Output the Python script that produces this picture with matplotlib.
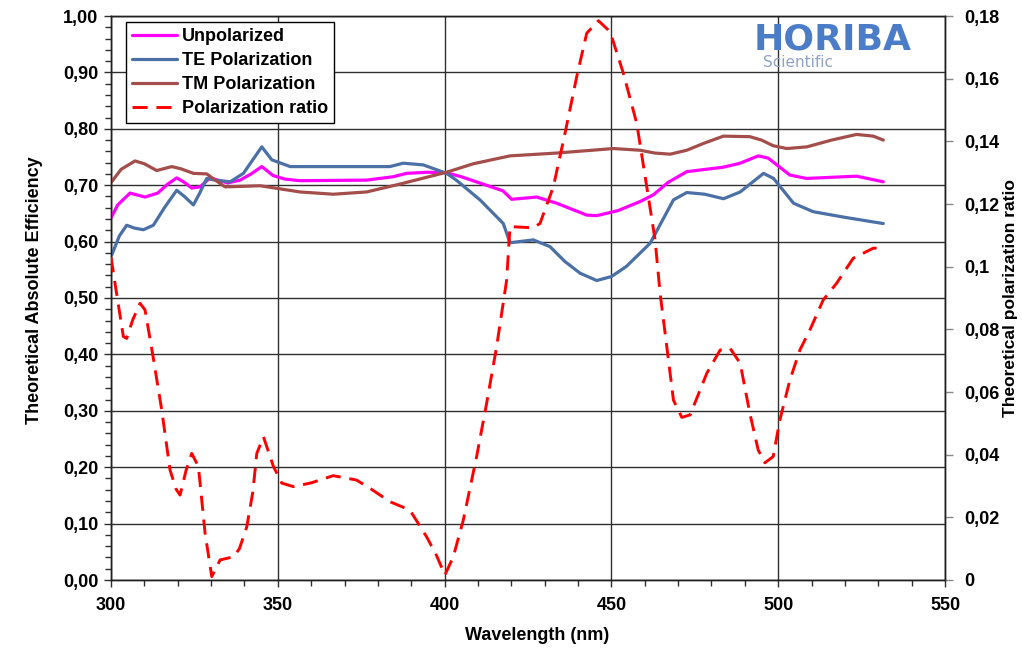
import matplotlib
matplotlib.use("Agg")
import matplotlib.pyplot as plt
from matplotlib.ticker import MultipleLocator, FuncFormatter

plt.rcParams['font.family'] = ['Liberation Sans', 'DejaVu Sans']

# ---- data ----
w_unpol = [300, 302, 305.7, 310.2, 314, 317, 319.7, 322, 324.2, 326.7, 329.7, 335, 338.7, 342,
           345.2, 348.6, 352, 356.6, 376.6, 384.6, 388.6, 395, 400.6, 405, 410, 417.5, 420.1,
           427.6, 433.6, 442.6, 445.6, 452, 458.6, 462.6, 467, 472.6, 483.6, 488.6, 494, 497,
           503.5, 508.5, 523.5, 531.5]
unpol = [0.642, 0.665, 0.686, 0.679, 0.686, 0.702, 0.713, 0.705, 0.695, 0.697, 0.713, 0.704, 0.709,
         0.720, 0.733, 0.717, 0.711, 0.708, 0.709, 0.715, 0.721, 0.723, 0.722, 0.715, 0.705, 0.690,
         0.675, 0.679, 0.668, 0.647, 0.646, 0.655, 0.671, 0.683, 0.705, 0.724, 0.732, 0.739, 0.752,
         0.748, 0.718, 0.712, 0.716, 0.706]

w_te = [300.2, 302.5, 304.7, 307, 309.7, 312.7, 316, 319.7, 322, 324.7, 326.5, 328.7, 331.2, 335.7,
        339.7, 342.5, 345.2, 348.2, 353.7, 383.6, 387.6, 393.6, 400.6, 403.5, 410.6, 417.6, 419.6,
        426.6, 431.6, 436, 440.6, 445.6, 450, 454.5, 461.6, 468.6, 472.6, 478, 483.6, 488.6, 495.6,
        498.6, 504.6, 510.5, 520, 531.5]
te = [0.576, 0.610, 0.629, 0.624, 0.621, 0.629, 0.660, 0.691, 0.680, 0.665, 0.685, 0.712, 0.709,
      0.706, 0.721, 0.745, 0.768, 0.745, 0.733, 0.733, 0.739, 0.736, 0.721, 0.709, 0.674, 0.632,
      0.598, 0.603, 0.591, 0.565, 0.544, 0.531, 0.538, 0.556, 0.597, 0.674, 0.687, 0.684, 0.676,
      0.688, 0.721, 0.712, 0.668, 0.653, 0.643, 0.632]

w_tm = [300.2, 303, 307.2, 310, 313.7, 318.2, 321, 324.7, 328.7, 331, 334.2, 344.7, 356.7, 366.6,
        376.6, 386.6, 400.6, 408.6, 419.6, 433.6, 450.6, 458.6, 463, 467.6, 472.6, 478, 483.6,
        491.5, 495, 498.5, 502.6, 508.6, 516, 523.5, 528.5, 531.5]
tm = [0.706, 0.728, 0.743, 0.738, 0.726, 0.733, 0.729, 0.721, 0.720, 0.710, 0.697, 0.699, 0.688,
      0.684, 0.688, 0.702, 0.723, 0.738, 0.752, 0.757, 0.765, 0.762, 0.757, 0.755, 0.762, 0.775,
      0.787, 0.786, 0.780, 0.770, 0.765, 0.768, 0.780, 0.790, 0.787, 0.780]

w_ratio = [300, 301.2, 303.7, 304.7, 306.5, 308.7, 310.2, 312.5, 315.2, 317.7, 319.5, 320.7, 322.5,
           324.2, 326.2, 328.2, 330.2, 332.7, 336.7, 338.5, 340.7, 342.5, 343.7, 345.7, 348.7,
           351.2, 354.7, 360, 366.6, 373.6, 378, 383.6, 389.6, 394.6, 397.5, 400.1, 402.6, 405.6,
           409.6, 412.6, 415.6, 418.6, 419.6, 423, 426.6, 428.6, 432.6, 436.1, 439.6, 442.6, 446.1,
           449.6, 453.6, 457.6, 460.6, 463.1, 464.6, 466.6, 468.6, 471.1, 473.6, 478.6, 482.6,
           485.6, 488.6, 491.5, 494, 496, 498.5, 500.5, 503.5, 506.5, 509.5, 513.5, 517.5, 522.5,
           528.5, 529.5]
ratio = [0.103, 0.0947, 0.0777, 0.0771, 0.083, 0.0883, 0.0862, 0.072, 0.0543, 0.0351, 0.029, 0.0271,
         0.035, 0.0404, 0.0362, 0.0149, 0.0011, 0.0064, 0.0074, 0.010, 0.0170, 0.028, 0.0404,
         0.0457, 0.0362, 0.0309, 0.0298, 0.031, 0.0333, 0.0319, 0.029, 0.0250, 0.0223, 0.0138,
         0.008, 0.0016, 0.0074, 0.0191, 0.0394, 0.0564, 0.0745, 0.0957, 0.1128, 0.1126, 0.1124,
         0.1138, 0.1255, 0.1426, 0.1606, 0.1745, 0.1785, 0.1750, 0.1617, 0.1457, 0.1255, 0.1085,
         0.0915, 0.0745, 0.0574, 0.0519, 0.0527, 0.0660, 0.0734, 0.0739, 0.0692, 0.0532, 0.0415,
         0.0374, 0.0394, 0.0511, 0.0638, 0.0734, 0.0798, 0.0894, 0.0947, 0.1027, 0.1059, 0.1059]

labels = ["Unpolarized", "TE Polarization", "TM Polarization", "Polarization ratio"]

# ---- figure ----
fig = plt.figure(figsize=(10.22, 6.48), dpi=100)
ax = fig.add_axes([111/1022, 1-580/648, (945-111)/1022, (580-16)/648])
ax2 = ax.twinx()

lw = 2.3
l1, = ax.plot(w_unpol, unpol, color='#FF00FF', lw=lw, solid_joinstyle='round', solid_capstyle='round', zorder=5)
l2, = ax.plot(w_te, te, color='#4A70A6', lw=lw, solid_joinstyle='round', solid_capstyle='round', zorder=5)
l3, = ax.plot(w_tm, tm, color='#A34E4B', lw=lw, solid_joinstyle='round', solid_capstyle='round', zorder=5)
l4, = ax2.plot(w_ratio, ratio, color='#FF0000', lw=2.1, dashes=(5.2, 3.0), zorder=5)

ax.set_xlim(300, 550)
ax.set_ylim(0, 1.0)
ax2.set_ylim(0, 0.18)

ax.xaxis.set_major_locator(MultipleLocator(50))
ax.xaxis.set_minor_locator(MultipleLocator(10))
ax.yaxis.set_major_locator(MultipleLocator(0.1))
ax.yaxis.set_minor_locator(MultipleLocator(0.02))
ax2.yaxis.set_major_locator(MultipleLocator(0.02))

ax.yaxis.set_major_formatter(FuncFormatter(lambda v, p: f"{v:.2f}".replace('.', ',')))

def rfmt(v, p):
    s = f"{v:.2f}".rstrip('0').rstrip('.')
    if s in ('', '-0'):
        s = '0'
    return s.replace('.', ',')

ax2.yaxis.set_major_formatter(FuncFormatter(rfmt))

ax.grid(True, which='major', color='#303030', lw=1.0)
ax.set_axisbelow(True)

tkw = dict(direction='out', labelsize=13, width=1.0)
ax.tick_params(axis='both', which='major', length=5, pad=4, colors='#303030', labelcolor='black', **tkw)
ax.tick_params(axis='both', which='minor', length=4, width=1.0, direction='out', colors='#303030')
ax.tick_params(axis='x', which='major', pad=7)
ax2.tick_params(axis='y', which='major', length=6, pad=8, colors='#888888', labelcolor='black', **tkw)

for t in ax.get_xticklabels() + ax.get_yticklabels() + ax2.get_yticklabels():
    t.set_fontweight('bold')

for sp in ax.spines.values():
    sp.set_color('#202020')
    sp.set_linewidth(1.0)
for sp in ax2.spines.values():
    sp.set_color('#202020')
    sp.set_linewidth(1.0)

fig.text(537/1022, 1-636/648, "Wavelength (nm)", ha='center', va='center', fontsize=13, fontweight='bold')
fig.text(35/1022, 1-290/648, "Theoretical Absolute Efficiency", ha='center', va='center',
         rotation=90, fontsize=13, fontweight='bold')
fig.text(1010/1022, 1-298/648, "Theoretical polarization ratio", ha='center', va='center',
         rotation=90, fontsize=12.5, fontweight='bold')

leg = fig.legend([l1, l2, l3, l4], labels, loc='upper left',
                 bbox_to_anchor=(126/1022, 1-22/648), frameon=True, fancybox=False,
                 edgecolor='black', framealpha=1, fontsize=13, handlelength=2.5,
                 handletextpad=0.25, labelspacing=0.38, borderpad=0.35, borderaxespad=0)
leg.get_frame().set_linewidth(1.0)
for t in leg.get_texts():
    t.set_fontweight('bold')
leg.set_zorder(10)

# logo
fig.text(754/1022, 1-49/648, "HORIBA", ha='left', va='baseline', fontsize=26, fontweight='bold',
         color='#4A7CC8', family='DejaVu Sans')
fig.text(763/1022, 1-67/648, "Scientific", ha='left', va='baseline', fontsize=11,
         color='#8FA3C8', family='DejaVu Sans')

fig.savefig("out.png", dpi=100)
